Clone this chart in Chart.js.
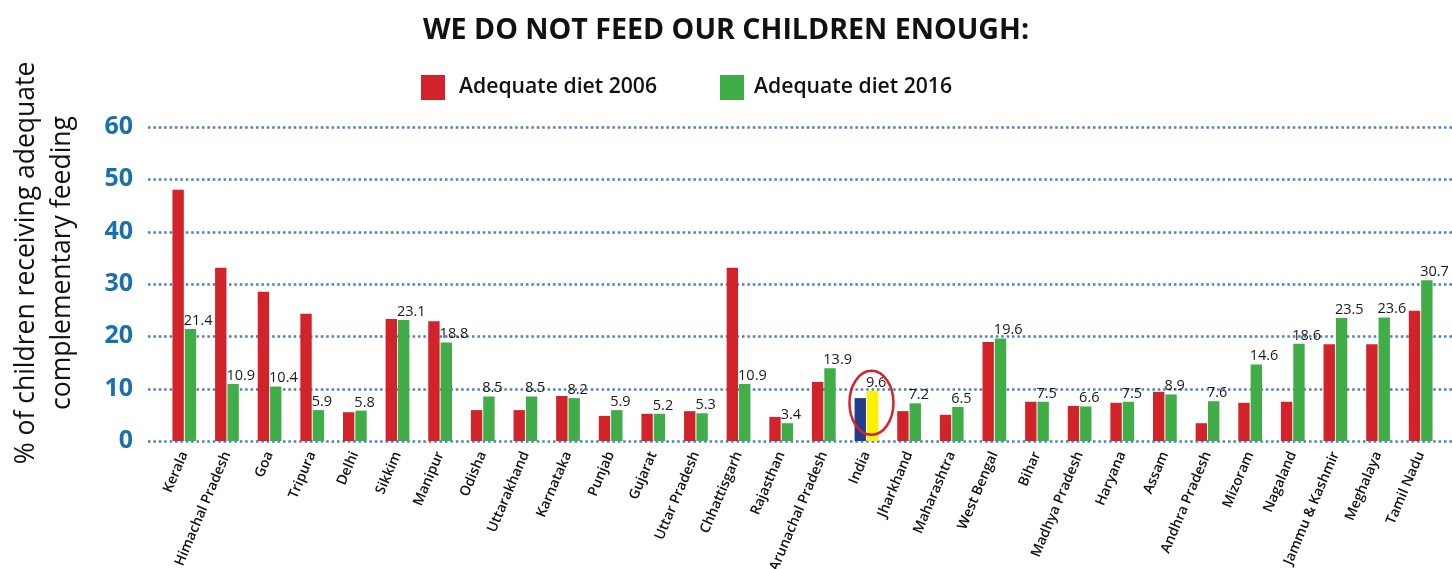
<!DOCTYPE html>
<html><head><meta charset="utf-8">
<script src="https://cdn.jsdelivr.net/npm/chart.js@4.4.1/dist/chart.umd.min.js"></script>
<style>
html,body{margin:0;padding:0;background:#fff;}
#wrap{position:relative;width:1452px;height:569px;overflow:hidden;}
canvas{position:absolute;left:0;top:0;}
#title{position:absolute;left:0;width:1452px;top:8px;text-align:center;font:700 28.6px 'Open Sans';color:#111;white-space:nowrap;}
.lg{position:absolute;top:75px;width:24px;height:25px;}
.lt{position:absolute;top:70px;font:600 21.2px 'Open Sans';color:#111;white-space:nowrap;}
#ytitle{position:absolute;left:-175px;top:229px;width:430px;height:68px;line-height:34px;text-align:center;font:400 26.5px 'Open Sans';color:#111;transform:rotate(-90deg);transform-origin:50% 50%;white-space:nowrap;}
</style>
</head><body>
<div id="wrap">
<canvas id="c" width="1452" height="569"></canvas>
<div id="title">WE DO NOT FEED OUR CHILDREN ENOUGH:</div>
<div class="lg" style="left:421px;background:#d2232a"></div>
<div class="lt" style="left:459px">Adequate diet 2006</div>
<div class="lg" style="left:720px;background:#41ad49"></div>
<div class="lt" style="left:754px">Adequate diet 2016</div>
<div id="ytitle">% of children receiving adequate<br>complementary feeding</div>
</div>
<script>
const categories = ["Kerala","Himachal Pradesh","Goa","Tripura","Delhi","Sikkim","Manipur","Odisha","Uttarakhand","Karnataka","Punjab","Gujarat","Uttar Pradesh","Chhattisgarh","Rajasthan","Arunachal Pradesh","India","Jharkhand","Maharashtra","West Bengal","Bihar","Madhya Pradesh","Haryana","Assam","Andhra Pradesh","Mizoram","Nagaland","Jammu & Kashmir","Meghalaya","Tamil Nadu"];
const diet2006 = [48.0,33.1,28.5,24.3,5.5,23.3,22.9,5.9,5.9,8.6,4.8,5.2,5.7,33.1,4.6,11.3,8.2,5.7,5.0,18.9,7.5,6.7,7.3,9.4,3.4,7.3,7.5,18.5,18.5,24.9];
const diet2016 = [21.4,10.9,10.4,5.9,5.8,23.1,18.8,8.5,8.5,8.2,5.9,5.2,5.3,10.9,3.4,13.9,9.6,7.2,6.5,19.6,7.5,6.6,7.5,8.9,7.6,14.6,18.6,23.5,23.6,30.7];
const yTicks = [0,10,20,30,40,50,60];
const highlight = "India";

const RED = '#d2232a', GREEN = '#41ad49', BLUE = '#233e8b', YELLOW = '#fff200';
const col2006 = categories.map(c => c === highlight ? BLUE : RED);
const col2016 = categories.map(c => c === highlight ? YELLOW : GREEN);

const gridPlugin = {
  id: 'dotgrid',
  beforeDatasetsDraw(chart) {
    const ctx = chart.ctx, y = chart.scales.y;
    ctx.save();
    ctx.strokeStyle = '#4482c2';
    ctx.lineWidth = 2.5;
    ctx.setLineDash([2.5, 2.9]);
    yTicks.forEach(v => {
      const py = Math.round(y.getPixelForValue(v)) + 0.5;
      ctx.beginPath(); ctx.moveTo(148, py); ctx.lineTo(1452, py); ctx.stroke();
    });
    ctx.restore();
  }
};
const labelPlugin = {
  id: 'vlabels',
  afterDatasetsDraw(chart) {
    const ctx = chart.ctx;
    const meta = chart.getDatasetMeta(1);
    ctx.save();
    ctx.font = "400 14.5px 'Open Sans'";
    ctx.fillStyle = '#1a1a1a';
    ctx.textAlign = 'left';
    ctx.textBaseline = 'bottom';
    meta.data.forEach((el, i) => {
      ctx.fillText(diet2016[i].toFixed(1), el.x - el.width / 2 - 1, el.y - 1);
    });
    const idx = categories.indexOf(highlight);
    const a = chart.getDatasetMeta(0).data[idx], b = meta.data[idx];
    const cx = (a.x + b.x) / 2 + 5;
    const cy = chart.scales.y.getPixelForValue(7.3);
    ctx.strokeStyle = RED; ctx.lineWidth = 2.5;
    ctx.beginPath(); ctx.ellipse(cx, cy, 22, 32, 0, 0, Math.PI * 2); ctx.stroke();
    ctx.restore();
  }
};

new Chart(document.getElementById('c'), {
  type: 'bar',
  data: {
    labels: categories,
    datasets: [
      { label: 'Adequate diet 2006', data: diet2006, backgroundColor: col2006, categoryPercentage: 0.58, barPercentage: 0.92 },
      { label: 'Adequate diet 2016', data: diet2016, backgroundColor: col2016, categoryPercentage: 0.58, barPercentage: 0.92 }
    ]
  },
  options: {
    responsive: false, animation: false,
    layout: { padding: { top: 127, right: 10, left: 0, bottom: 0 } },
    plugins: { legend: { display: false }, title: { display: false }, tooltip: { enabled: false } },
    scales: {
      x: {
        grid: { display: false, drawTicks: false }, border: { display: false },
        ticks: { autoSkip: false, minRotation: 67, maxRotation: 67, padding: 8, color: '#111', font: { family: 'Open Sans', size: 14, weight: '600' } },
        afterFit(s) { s.height = 128; }
      },
      y: {
        min: 0, max: 60,
        grid: { display: false, drawTicks: false }, border: { display: false },
        ticks: { stepSize: 10, padding: 30, color: '#1a70ad', font: { family: 'Open Sans', size: 25, weight: '700' } },
        afterFit(s) { s.width = 163; }
      }
    }
  },
  plugins: [gridPlugin, labelPlugin]
});
</script>
</body></html>
